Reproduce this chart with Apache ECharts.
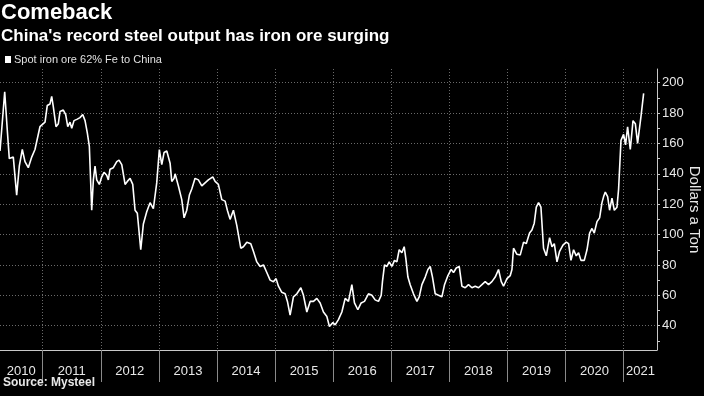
<!DOCTYPE html>
<html>
<head>
<meta charset="utf-8">
<script src="https://cdn.jsdelivr.net/npm/echarts@6/dist/echarts.min.js"></script>
<style>
  html, body { margin: 0; padding: 0; background: #000; }
  #main { width: 704px; height: 396px; }
</style>
</head>
<body>
<div id="main"></div>
<script>
// dates as decimal years, prices in dollars a ton
var years = [
  2010.265, 2010.346, 2010.39, 2010.425, 2010.494, 2010.552, 2010.597, 2010.649, 2010.695, 2010.752,
  2010.811, 2010.867, 2010.953, 2011.04, 2011.079, 2011.126, 2011.155, 2011.183, 2011.229, 2011.269,
  2011.298, 2011.355, 2011.396, 2011.431, 2011.47, 2011.5, 2011.539, 2011.596, 2011.642, 2011.689,
  2011.729, 2011.768, 2011.803, 2011.844, 2011.872, 2011.901, 2011.93, 2011.975, 2012.016, 2012.056,
  2012.102, 2012.13, 2012.159, 2012.216, 2012.275, 2012.314, 2012.361, 2012.418, 2012.457, 2012.504,
  2012.55, 2012.59, 2012.629, 2012.688, 2012.733, 2012.791, 2012.848, 2012.905, 2012.963, 2013.008,
  2013.05, 2013.089, 2013.136, 2013.193, 2013.222, 2013.261, 2013.279, 2013.336, 2013.394, 2013.434,
  2013.48, 2013.525, 2013.566, 2013.623, 2013.68, 2013.739, 2013.795, 2013.852, 2013.928, 2013.968,
  2014.024, 2014.083, 2014.14, 2014.179, 2014.226, 2014.283, 2014.341, 2014.41, 2014.455, 2014.514,
  2014.582, 2014.627, 2014.686, 2014.743, 2014.8, 2014.858, 2014.915, 2014.972, 2015.018, 2015.058,
  2015.116, 2015.173, 2015.213, 2015.259, 2015.316, 2015.375, 2015.444, 2015.489, 2015.547, 2015.604,
  2015.661, 2015.719, 2015.776, 2015.833, 2015.892, 2015.936, 2015.995, 2016.034, 2016.091, 2016.15,
  2016.207, 2016.264, 2016.322, 2016.367, 2016.425, 2016.482, 2016.539, 2016.608, 2016.667, 2016.723,
  2016.78, 2016.827, 2016.849, 2016.884, 2016.925, 2016.965, 2017.011, 2017.056, 2017.097, 2017.137,
  2017.183, 2017.223, 2017.252, 2017.287, 2017.326, 2017.383, 2017.442, 2017.481, 2017.528, 2017.585,
  2017.631, 2017.671, 2017.71, 2017.757, 2017.814, 2017.872, 2017.917, 2017.976, 2018.032, 2018.072,
  2018.119, 2018.17, 2018.217, 2018.274, 2018.33, 2018.389, 2018.446, 2018.503, 2018.561, 2018.618,
  2018.675, 2018.733, 2018.79, 2018.847, 2018.894, 2018.933, 2018.992, 2019.049, 2019.078, 2019.105,
  2019.164, 2019.221, 2019.278, 2019.324, 2019.381, 2019.422, 2019.462, 2019.497, 2019.536, 2019.577,
  2019.622, 2019.669, 2019.726, 2019.767, 2019.807, 2019.853, 2019.898, 2019.956, 2020.013, 2020.053,
  2020.094, 2020.139, 2020.185, 2020.225, 2020.266, 2020.323, 2020.37, 2020.415, 2020.456, 2020.495,
  2020.542, 2020.587, 2020.628, 2020.656, 2020.685, 2020.725, 2020.759, 2020.8, 2020.84, 2020.886,
  2020.914, 2020.955, 2021.0, 2021.034, 2021.069, 2021.115, 2021.162, 2021.202, 2021.241, 2021.3,
  2021.345
];
var prices = [
  155, 194, 169, 150, 151, 126, 145, 156, 148, 144,
  151, 156, 171, 174, 185, 186, 191, 184, 171, 173,
  181, 182, 179, 171, 174, 170, 175, 176, 177, 179,
  175, 167, 158, 116, 136, 145, 136, 133, 138, 141,
  139, 136, 143, 144, 148, 149, 146, 133, 135, 137,
  133, 116, 114, 90, 107, 115, 121, 117, 134, 156,
  146, 154, 155, 147, 135, 137, 140, 132, 123, 111,
  116, 126, 130, 137, 136, 132, 134, 136, 138, 135,
  133, 123, 122, 116, 110, 116, 106, 91, 92, 95,
  94, 89, 82, 79, 80, 75, 70, 69, 71, 66,
  62, 61, 56, 47, 59, 61, 65, 60, 49, 56,
  56, 58, 55, 49, 46, 39.5, 42, 40.5, 44, 49,
  58, 56, 67, 55, 50.5, 55, 56, 61, 60, 57,
  56, 60, 69, 80, 79, 82, 79, 83, 82, 90,
  88, 92, 84, 72, 67, 61, 56, 59, 67, 72,
  77, 79, 72, 61, 60, 59, 67, 73, 77, 75,
  78, 79, 66, 65, 67, 65, 66, 65, 67, 69,
  67, 69, 72, 77, 69, 66, 71, 73, 77, 91,
  87, 86.6, 95, 94, 101, 103, 107.5, 118, 121, 118,
  91, 86, 98, 92, 94, 82, 89, 93, 95, 94,
  83, 90, 86, 88, 83, 83, 90, 101, 104, 101,
  108.5, 111, 121, 125, 128, 125, 116, 124, 116, 118,
  130, 162, 166, 159, 171, 156, 175, 173, 160, 178,
  193
];
var seriesName = 'Spot iron ore 62% Fe to China';
var xMin = 2010.265, xMax = 2021.575;
var yMin = 24, yMax = 209;
var yearTicks = [2011, 2012, 2013, 2014, 2015, 2016, 2017, 2018, 2019, 2020, 2021];
var yearLabelPos = [2010.63, 2011.5, 2012.5, 2013.5, 2014.5, 2015.5, 2016.5, 2017.5, 2018.5, 2019.5, 2020.5, 2021.29];
var priceLabels = [40, 60, 80, 100, 120, 140, 160, 180, 200];
var priceTicks = [30, 40, 50, 60, 70, 80, 90, 100, 110, 120, 130, 140, 150, 160, 170, 180, 190, 200];

var data = [];
for (var i = 0; i < years.length; i++) {
    data.push([years[i], prices[i]]);
}

var myChart = echarts.init(document.getElementById('main'));

var option = {
    backgroundColor: '#000',
    animation: false,
    title: [
        {
            text: 'Comeback',
            left: 1, top: 2,
            padding: 0,
            textStyle: { color: '#fff', fontSize: 22, fontWeight: 'bold', fontFamily: 'Liberation Sans' }
        },
        {
            text: "China's record steel output has iron ore surging",
            left: 1, top: 28,
            padding: 0,
            textStyle: { color: '#fff', fontSize: 17, fontWeight: 'bold', fontFamily: 'Liberation Sans' }
        },
        {
            text: 'Source: Mysteel',
            left: 3, top: 377,
            padding: 0,
            textStyle: { color: '#e8e8e8', fontSize: 12, fontWeight: 'bold', fontFamily: 'Liberation Sans' }
        }
    ],
    legend: {
        data: [seriesName],
        left: 5, top: 54,
        padding: 0,
        icon: 'rect',
        itemWidth: 6, itemHeight: 7,
        textStyle: { color: '#e0e0e0', fontSize: 11, fontFamily: 'Liberation Sans', padding: [0, 0, 0, -2] }
    },
    grid: { left: 0, right: 47, top: 69, bottom: 46, outerBoundsMode: 'none' },
    xAxis: {
        type: 'value',
        min: xMin, max: xMax,
        axisLine: { show: true, lineStyle: { color: '#c8c8c8', width: 1 } },
        axisTick: {
            show: true, customValues: yearTicks, length: 32,
            lineStyle: { color: '#8a8a8a', width: 1 }
        },
        axisLabel: {
            customValues: yearLabelPos, margin: 15,
            color: '#e8e8e8', fontSize: 13, fontFamily: 'Liberation Sans',
            formatter: function (v) { return Math.floor(v); }
        },
        splitLine: { show: true, lineStyle: { color: '#6a6a6a', type: [1, 2], width: 1 } }
    },
    yAxis: [
        {
            type: 'value',
            position: 'right',
            min: yMin, max: yMax,
            name: 'Dollars a Ton',
            nameLocation: 'middle',
            nameRotate: -90,
            nameGap: 30,
            nameMoveOverlap: false,
            nameTextStyle: { color: '#e8e8e8', fontSize: 15, fontFamily: 'Liberation Sans' },
            axisLine: { show: true, lineStyle: { color: '#c8c8c8', width: 1 } },
            axisTick: { show: true, customValues: priceTicks, length: 3, lineStyle: { color: '#c8c8c8' } },
            axisLabel: { customValues: priceLabels, margin: 5, color: '#e8e8e8', fontSize: 13, fontFamily: 'Liberation Sans' },
            splitLine: { show: false }
        },
        {
            // hidden copy only for the dotted horizontal gridlines
            type: 'value',
            position: 'right',
            offset: 0,
            min: yMin, max: yMax,
            axisLine: { show: false },
            axisTick: { show: false, customValues: priceLabels },
            axisLabel: { show: false, customValues: priceLabels },
            splitLine: { show: true, lineStyle: { color: '#6a6a6a', type: [1, 2], width: 1 } }
        }
    ],
    series: [
        {
            name: seriesName,
            type: 'line',
            data: data,
            showSymbol: false,
            yAxisIndex: 0,
            lineStyle: { color: '#fff', width: 1.6 },
            itemStyle: { color: '#fff' }
        }
    ]
};

myChart.setOption(option);
</script>
</body>
</html>
